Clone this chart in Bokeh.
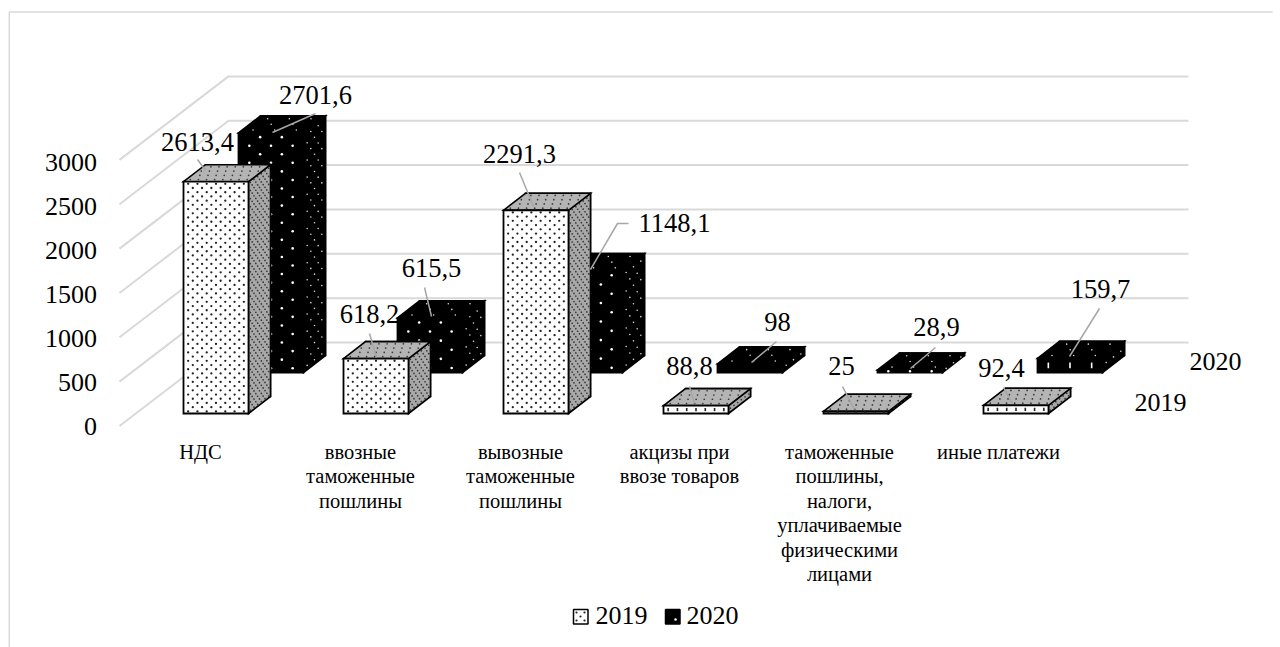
from bokeh.plotting import figure
from bokeh.models import Range1d, FixedTicker
from bokeh.core.properties import value
from bokeh.embed import file_html
from bokeh.resources import INLINE

categories = ["НДС", "ввозные\nтаможенные\nпошлины", "вывозные\nтаможенные\nпошлины",
              "акцизы при\nввозе товаров",
              "таможенные\nпошлины,\nналоги,\nуплачиваемые\nфизическими\nлицами",
              "иные платежи"]
v2019 = [2613.4, 618.2, 2291.3, 88.8, 25, 92.4]
v2020 = [2701.6, 615.5, 1148.1, 98, 28.9, 159.7]
labels2019 = ["2613,4", "618,2", "2291,3", "88,8", "25", "92,4"]
labels2020 = ["2701,6", "615,5", "1148,1", "98", "28,9", "159,7"]
ticks = [0, 500, 1000, 1500, 2000, 2500, 3000]
years = ["2019", "2020"]

# ---- layout (page pixels) ----
FONT = "Liberation Serif"
K = 0.0887          # px per value unit
Y0 = 425.5          # page y of value 0 at the front edge
K_LABEL = 0.088     # tick labels sit on a slightly tighter scale than the wall lines
def V(py):          # page y -> axis value
    return (Y0 - py) / K
GRID = "#d9d9d9"
W_BAR, DX, DY = 65, 22, 17
X_2019 = [183, 343, 503, 663, 823, 983]
X_2020 = [238, 397, 557, 717, 877, 1037]
BASE_2019, BASE_2020 = 413, 372
CAT_X = [200, 360, 520, 679, 839, 998]
LBL19 = [(197, 141), (369, 313), (519, 153), (689, 365), (841, 365), (1001, 367)]
LBL20 = [(315, 94), (431, 267), (674, 222), (777, 321), (936, 326), (1100, 288)]
LEAD19 = [[(197, 159), (205, 170)], [(369, 333), (376, 357)], [(519, 172), (533, 206)],
          [(689, 386), (694, 403)], [(842, 386), (854, 409)], [(1003, 387), (1012, 403)]]
LEAD20 = [[(315, 113), (272, 132)], [(424, 287), (431, 316)], [(628, 223), (617, 223), (590, 269)],
          [(776, 341), (751, 362)], [(935, 347), (910, 368)], [(1099, 308), (1069, 356)]]

p = figure(width=1280, height=647, output_backend="svg", toolbar_location=None,
           x_range=Range1d(0, 1280), y_range=Range1d(V(647), V(0)),
           min_border=0, outline_line_color=None, x_axis_location=None)
p.xgrid.visible = False
p.ygrid.visible = False
p.extra_y_ranges["labels"] = Range1d((Y0 - 647) / K_LABEL, Y0 / K_LABEL)

ax = p.yaxis[0]
ax.y_range_name = "labels"
ax.fixed_location = 103.5
ax.ticker = FixedTicker(ticks=ticks)
ax.axis_line_color = None
ax.major_tick_line_color = None
ax.minor_tick_line_color = None
ax.major_label_text_font = FONT
ax.major_label_text_font_size = "26px"
ax.major_label_text_color = "black"
ax.major_label_standoff = 1

# chart frame
p.line([8.8, 8.8, 1272], [V(647), V(11.5), V(11.5)], line_color=GRID, line_width=1.5)

# walls
for t in ticks:
    p.line([119, 228, 1188], [t, t + 83.5 / K, t + 83.5 / K], line_color=GRID, line_width=2)


def lattice(n_u, n_v, length_u, length_v, stagger=True):
    pts = []
    for j in range(n_v):
        off = 0.5 if (stagger and j % 2) else 0.0
        for i in range(n_u):
            u = (i + 0.5 + off) * length_u / n_u
            v = (j + 0.5) * length_v / n_v
            if u < length_u:
                pts.append((u, v))
    return pts


def bar(x0, base_py, val, dark):
    base = V(base_py)
    top = base + val
    dv = DY / K
    x1 = x0 + W_BAR
    h_px = val * K
    front_fill, side_fill, top_fill = ("black", "black", "black") if dark else ("white", "#a8a8a8", "#b4b4b4")
    p.patches(
        [[x0 + DX, x1 + DX, x1 + DX, x0 + DX], [x1, x1 + DX, x1 + DX, x1], [x0, x0 + DX, x1 + DX, x1]],
        [[base + dv, base + dv, top + dv, top + dv], [base, base + dv, top + dv, top], [top, top + dv, top + dv, top]],
        fill_color=[side_fill, side_fill, top_fill], line_color="black", line_width=1.6, line_join="miter")
    p.patch([x0, x1, x1, x0], [base, base, top, top], fill_color=front_fill,
            line_color="black", line_width=1.8, line_join="miter")
    if dark:
        f_u, f_v, s_u, s_v, t_u, t_v = 17, 8.5, 6, 8.5, 17, 5.5
        col, size_f, size_s = "white", 2.6, 1.6
    else:
        f_u, f_v, s_u, s_v, t_u, t_v = 8.5, 4.2, 3.5, 4, 8, 3.5
        col, size_f, size_s = "#222222", 2.3, 1.7
    n_u = max(int(W_BAR / f_u), 1)
    if 6 <= h_px <= 16:
        # very low bars: the pattern shows only as a row of short ticks
        if not (dark and h_px < 10):
            xs = [x0 + u for u, _ in lattice(n_u, 1, W_BAR, 1.0)]
            p.segment(xs, [base + 0.3 * val] * n_u, xs, [base + 0.7 * val] * n_u,
                      line_color=col, line_width=1.6)
    else:
        xs, ys = [], []
        for u, v in lattice(n_u, max(int(h_px / f_v), 1), W_BAR, h_px):
            xs.append(x0 + u)
            ys.append(base + v / K)
        p.scatter(xs, ys, size=size_f, color=col, line_color=None)
    # side and top faces
    xs, ys = [], []
    for u, v in lattice(max(int(DX / s_u), 1), max(int(h_px / s_v), 1), 1.0, h_px):
        xs.append(x1 + u * DX)
        ys.append(base + v / K + u * dv)
    for u, v in lattice(max(int(W_BAR / t_u), 1), max(int(DY / t_v), 1), W_BAR, 1.0):
        xs.append(x0 + u + v * DX)
        ys.append(top + v * dv)
    p.scatter(xs, ys, size=size_s, color=col, line_color=None, alpha=0.85)


for x0, val in zip(X_2020, v2020):
    bar(x0, BASE_2020, val, True)
for x0, val in zip(X_2019, v2019):
    bar(x0, BASE_2019, val, False)

# leader lines
for seg in LEAD19 + LEAD20:
    p.line([q[0] for q in seg], [V(q[1]) for q in seg], line_color="#a6a6a6", line_width=1.5)


def txt(x, py, s, size, align="center", baseline="middle", lh=1.2):
    p.text([x], [V(py)], text=[s], text_font=value(FONT), text_font_size=size, text_color="black",
           text_align=align, text_baseline=baseline, text_line_height=lh)


for (x, y), s in zip(LBL19 + LBL20, labels2019 + labels2020):
    txt(x, y, s, "26.5px")

for x, s in zip(CAT_X, categories):
    txt(x, 440, s, "20.5px", baseline="top", lh=1.115)

txt(1160, 402, years[0], "26px")
txt(1215, 361, years[1], "26px")

# legend
for ix, tx, yr, fill, dot in ((573, 595, years[0], "white", "#222222"), (665, 686, years[1], "black", "white")):
    p.patch([ix, ix + 14.5, ix + 14.5, ix], [V(623.5), V(623.5), V(609), V(609)], fill_color=fill,
            line_color="black", line_width=1.5)
    if fill == "white":
        p.scatter([ix + 3, ix + 11, ix + 7, ix + 3, ix + 11], [V(612), V(612), V(616), V(620), V(620)],
                  size=2.2, color=dot, line_color=None)
    else:
        p.scatter([ix + 10], [V(619)], size=2.5, color=dot, line_color=None)
    txt(tx, 615, yr, "26px", align="left")

open("out.html", "w").write(file_html(p, INLINE))
